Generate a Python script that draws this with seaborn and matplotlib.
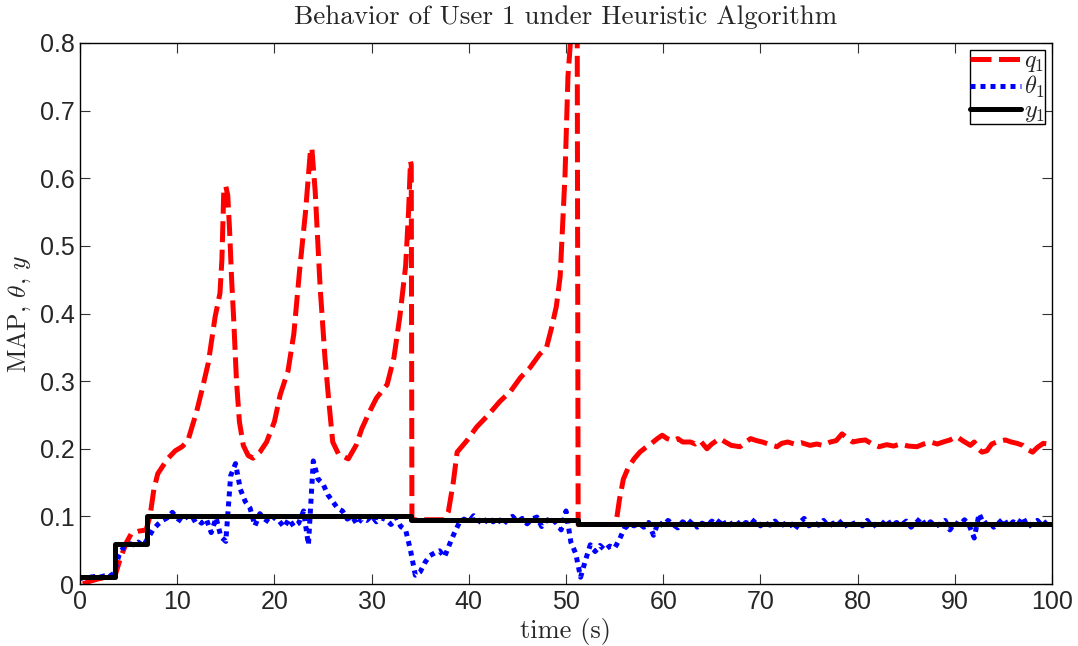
import numpy as np
import pandas as pd
import matplotlib
matplotlib.use("Agg")
import matplotlib.pyplot as plt
import seaborn as sns
from matplotlib.lines import Line2D

# ---------------- data ----------------
q_t = [0.3, 1.0, 2.0, 3.0, 3.6, 4.2, 4.8, 5.3, 6.0, 6.8, 7.2, 7.6, 8.0, 9.0, 9.8, 10.5, 11.1,
       12.0, 12.6, 13.2, 13.9, 14.4, 14.6, 14.8, 15.0, 15.2, 15.4, 15.6, 15.8, 16.1, 16.4,
       16.8, 17.3, 17.8, 18.5, 19.2, 20.0, 20.6, 21.4, 22.0, 22.6, 23.2, 23.7, 23.85, 24.2,
       24.7, 25.2, 25.6, 26.0, 26.6, 27.6, 28.4, 29.0, 29.8, 30.5, 31.6, 32.3, 32.9, 33.5,
       33.8, 34.0, 34.08, 34.15, 37.5, 37.9, 38.4, 38.8, 39.8, 40.8, 42.0, 43.2, 44.3, 45.3,
       46.3, 47.3, 48.0, 48.5, 49.0, 49.4, 49.9, 50.2, 50.6, 50.9, 51.15, 51.25, 55.0, 55.2,
       55.5, 55.9, 56.4, 57.0, 57.6, 58.3, 58.8, 59.4, 59.9, 60.4, 61.0, 61.5, 62.0, 62.8,
       63.3, 63.8, 64.5, 65.0, 65.8, 66.5, 67.0, 67.9, 68.5, 69.0, 69.6, 70.2, 70.8, 71.7,
       72.2, 72.8, 73.5, 74.2, 75.1, 75.8, 76.4, 77.2, 77.8, 78.4, 79.0, 79.5, 80.2, 80.8,
       81.5, 82.2, 83.0, 83.7, 84.4, 85.2, 86.1, 86.8, 87.5, 88.2, 88.8, 89.5, 90.2, 90.8,
       91.6, 92.0, 92.4, 92.8, 93.3, 93.8, 94.5, 95.2, 95.8, 96.4, 97.0, 97.6, 98.0, 98.5,
       99.1, 99.6, 100.0]
q_v = [0.000, 0.004, 0.008, 0.010, 0.012, 0.040, 0.062, 0.075, 0.078, 0.080, 0.100, 0.140,
       0.163, 0.185, 0.197, 0.203, 0.212, 0.255, 0.290, 0.327, 0.395, 0.430, 0.480, 0.585,
       0.588, 0.575, 0.520, 0.450, 0.395, 0.300, 0.240, 0.205, 0.190, 0.186, 0.195, 0.210,
       0.240, 0.280, 0.315, 0.370, 0.465, 0.550, 0.640, 0.645, 0.580, 0.440, 0.335, 0.270,
       0.210, 0.192, 0.185, 0.205, 0.230, 0.255, 0.275, 0.295, 0.335, 0.395, 0.470, 0.550,
       0.625, 0.620, 0.095, 0.095, 0.107, 0.150, 0.195, 0.212, 0.232, 0.250, 0.270, 0.285,
       0.305, 0.320, 0.340, 0.350, 0.378, 0.410, 0.455, 0.605, 0.750, 0.830, 0.870, 0.850,
       0.088, 0.088, 0.095, 0.125, 0.155, 0.172, 0.185, 0.195, 0.203, 0.208, 0.215, 0.220,
       0.215, 0.212, 0.215, 0.210, 0.210, 0.207, 0.212, 0.200, 0.207, 0.215, 0.209, 0.205,
       0.203, 0.210, 0.215, 0.212, 0.210, 0.207, 0.203, 0.208, 0.210, 0.207, 0.209, 0.205,
       0.207, 0.205, 0.210, 0.212, 0.222, 0.215, 0.210, 0.212, 0.213, 0.207, 0.203, 0.206,
       0.204, 0.207, 0.204, 0.203, 0.207, 0.210, 0.207, 0.210, 0.213, 0.218, 0.212, 0.205,
       0.210, 0.200, 0.195, 0.197, 0.207, 0.211, 0.213, 0.210, 0.208, 0.205, 0.198, 0.195,
       0.202, 0.208, 0.207, 0.208]

theta_v = [0.008, 0.010, 0.010, 0.011, 0.010, 0.012, 0.011, 0.016, 0.042, 0.055,   # 0-4.5
           0.060, 0.058, 0.062, 0.056, 0.068, 0.080, 0.088, 0.094, 0.098, 0.106,   # 5-9.5
           0.097, 0.092, 0.100, 0.093, 0.097, 0.090, 0.096, 0.076, 0.098, 0.070,   # 10-14.5
           0.063, 0.160, 0.178, 0.140, 0.122, 0.112, 0.086, 0.104, 0.096, 0.091,   # 15-19.5
           0.099, 0.093, 0.084, 0.096, 0.085, 0.090, 0.108, 0.058, 0.182, 0.155,   # 20-24.5
           0.148, 0.132, 0.122, 0.112, 0.108, 0.096, 0.100, 0.088, 0.097, 0.094,   # 25-29.5
           0.101, 0.092, 0.098, 0.095, 0.088, 0.099, 0.085, 0.080, 0.050, 0.013,   # 30-34.5
           0.018, 0.032, 0.042, 0.046, 0.049, 0.040, 0.058, 0.075, 0.090, 0.096,   # 35-39.5
           0.092, 0.101, 0.094, 0.088, 0.099, 0.092, 0.097, 0.087, 0.096, 0.100,   # 40-44.5
           0.092, 0.097, 0.089, 0.096, 0.099, 0.085, 0.094, 0.097, 0.090, 0.080,   # 45-49.5
           0.108, 0.062, 0.045, 0.010, 0.035, 0.058, 0.048, 0.057, 0.050, 0.056,   # 50-54.5
           0.053, 0.066, 0.082, 0.088, 0.086, 0.090, 0.084, 0.091, 0.072, 0.092,   # 55-59.5
           0.086, 0.094, 0.088, 0.083, 0.092, 0.087, 0.095, 0.084, 0.090, 0.086,   # 60-64.5
           0.093, 0.088, 0.097, 0.084, 0.089, 0.094, 0.085, 0.091, 0.088, 0.096,   # 65-69.5
           0.086, 0.090, 0.087, 0.093, 0.085, 0.089, 0.092, 0.080, 0.090, 0.097,   # 70-74.5
           0.086, 0.091, 0.087, 0.094, 0.085, 0.090, 0.088, 0.095, 0.083, 0.089,   # 75-79.5
           0.092, 0.086, 0.094, 0.084, 0.090, 0.088, 0.096, 0.085, 0.091, 0.087,   # 80-84.5
           0.093, 0.084, 0.090, 0.098, 0.086, 0.092, 0.085, 0.089, 0.094, 0.080,   # 85-89.5
           0.091, 0.087, 0.095, 0.086, 0.068, 0.104, 0.088, 0.093, 0.084, 0.090,   # 90-94.5
           0.097, 0.085, 0.092, 0.088, 0.099, 0.084, 0.090, 0.094, 0.086, 0.093,   # 95-99.5
           0.089]                                                                  # 100
theta_t = np.arange(len(theta_v)) * 0.5

y_t = [0.0, 3.55, 6.9, 34.05, 51.2, 100.0]
y_v = [0.011, 0.059, 0.100, 0.095, 0.088, 0.088]

labels = [r"$q_1$", r"$\theta_1$", r"$y_1$"]
xticks = [0, 10, 20, 30, 40, 50, 60, 70, 80, 90, 100]
yticks = [0, 0.1, 0.2, 0.3, 0.4, 0.5, 0.6, 0.7, 0.8]

# ---------------- style ----------------
sns.set_theme(style="ticks")
plt.rcParams["font.family"] = ["Liberation Sans", "DejaVu Sans"]
plt.rcParams["mathtext.fontset"] = "cm"
plt.rcParams["axes.formatter.use_mathtext"] = True

fig = plt.figure(figsize=(10.78, 6.46), dpi=100)
ax = fig.add_axes([80 / 1078, 1 - 584 / 646, (1052 - 80) / 1078, (584 - 43) / 646])

df_q = pd.DataFrame({"t": q_t, "v": q_v})
df_th = pd.DataFrame({"t": theta_t, "v": theta_v})
df_y = pd.DataFrame({"t": y_t, "v": y_v})

lw = 3.6
q_style = (0, (4.2, 1.5))
th_style = (0, (1.0, 1.0))
sns.lineplot(data=df_q, x="t", y="v", ax=ax, color="#ff0000", lw=lw, estimator=None,
             sort=False, linestyle=q_style, dash_capstyle="butt", legend=False)
sns.lineplot(data=df_th, x="t", y="v", ax=ax, color="#0000ff", lw=lw, estimator=None,
             sort=False, linestyle=th_style, dash_capstyle="butt", legend=False)
sns.lineplot(data=df_y, x="t", y="v", ax=ax, color="black", lw=lw, estimator=None,
             sort=False, drawstyle="steps-post", legend=False)

ax.set_xlim(0, 100)
ax.set_ylim(0, 0.8)
ax.set_xticks(xticks)
ax.set_yticks(yticks)
ax.set_xticklabels([str(x) for x in xticks])
ax.set_yticklabels(["0"] + [f"{v:.1f}" for v in yticks[1:]])
ax.tick_params(direction="in", length=7, width=0.8, top=True, right=True,
               labelsize=18, pad=4, color="#333333")
for s in ax.spines.values():
    s.set_visible(True)
    s.set_linewidth(1.0)
    s.set_color("black")

ax.set_title("Behavior of User 1 under Heuristic Algorithm", fontfamily="cmr10",
             fontsize=19.5, pad=14)
ax.set_xlabel("time (s)", fontfamily="cmr10", fontsize=19, labelpad=3)
ax.set_ylabel(r"MAP, $\theta$, $y$", fontfamily="cmr10", fontsize=18.5, labelpad=5)

handles = [
    Line2D([], [], color="#ff0000", lw=lw, linestyle=q_style, dash_capstyle="butt"),
    Line2D([], [], color="#0000ff", lw=lw, linestyle=th_style, dash_capstyle="butt"),
    Line2D([], [], color="black", lw=lw),
]
leg = ax.legend(handles, labels, loc="upper right", fontsize=17.5, frameon=True,
                fancybox=False, edgecolor="black", framealpha=1, borderpad=0.0,
                labelspacing=0.0, handlelength=2.1, handletextpad=0.1,
                borderaxespad=0.3)
leg.get_frame().set_linewidth(1.0)

fig.savefig("out.png", dpi=100)
